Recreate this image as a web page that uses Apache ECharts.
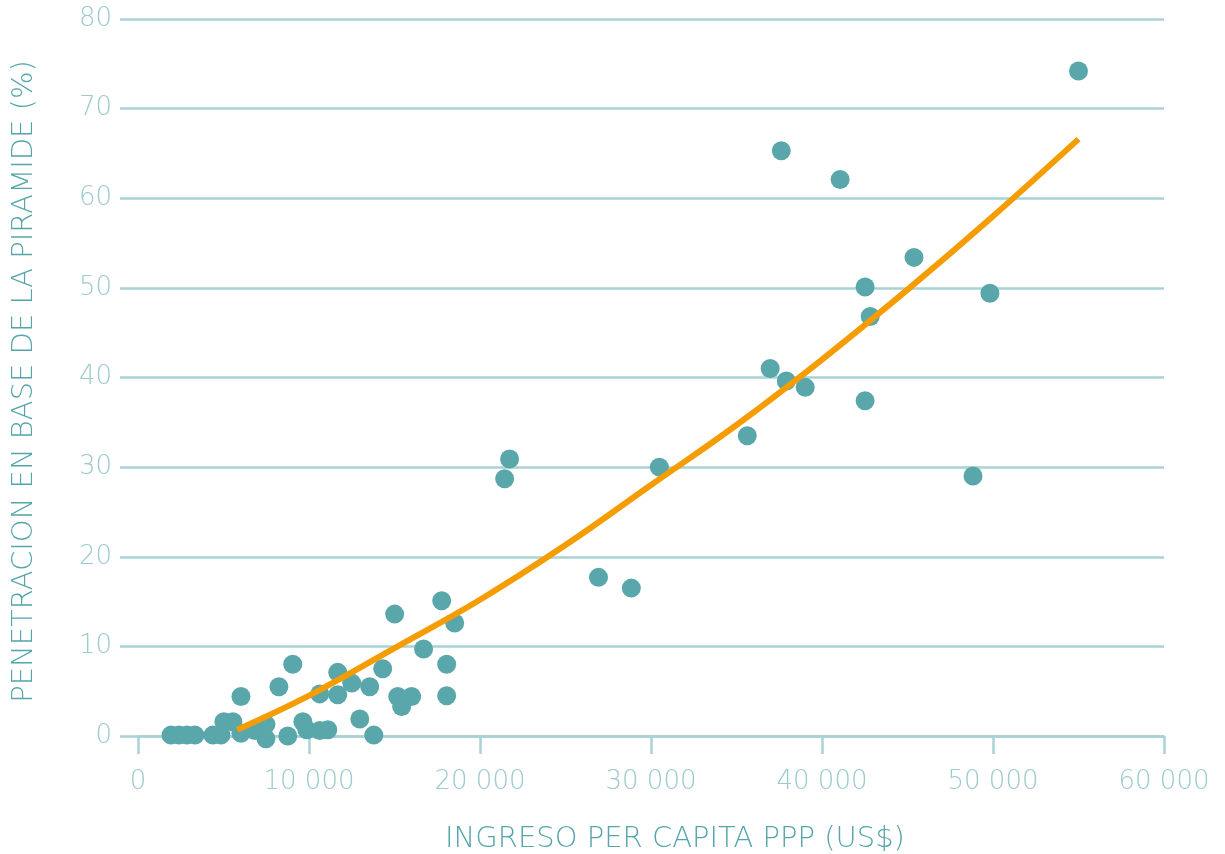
<!DOCTYPE html>
<html>
<head>
<meta charset="utf-8">
<script src="https://cdn.jsdelivr.net/npm/echarts@6/dist/echarts.min.js"></script>
<style>
html,body{margin:0;padding:0;background:#fff;overflow:hidden;}
#chart{width:1225px;height:854px;}
</style>
</head>
<body>
<div id="chart"></div>
<script>
// Income per capita PPP (US$) for each country point
const incomeValues = [
  1930, 2400, 2860, 3330, 4380, 4850, 5020, 5550, 6020, 6020,
  6830, 7480, 7480, 8240, 9050, 8760, 9640, 9870, 10630, 11100,
  10630, 11680, 11680, 12500, 13550, 12970, 13790, 14310, 15010, 15190,
  16000, 15420, 16700, 17760, 18050, 18050, 18520,
  55000, 37620, 41060, 45380, 42520, 49820, 42820, 36970, 37910, 39020,
  42520, 35630, 30490, 21730, 21440, 48830, 26930, 28850
];
// Penetration at base of the pyramid (%) for each country point
const penetrationValues = [
  0.1, 0.1, 0.1, 0.1, 0.1, 0.1, 1.6, 1.6, 4.4, 0.3,
  0.6, -0.3, 1.3, 5.5, 8.0, 0.0, 1.6, 0.7, 0.6, 0.7,
  4.7, 4.6, 7.1, 5.9, 5.5, 1.9, 0.1, 7.5, 13.6, 4.4,
  4.4, 3.3, 9.7, 15.1, 8.0, 4.5, 12.6,
  74.2, 65.3, 62.1, 53.4, 50.1, 49.4, 46.8, 41.0, 39.6, 38.9,
  37.4, 33.5, 30.0, 30.9, 28.7, 29.0, 17.7, 16.5
];
// Trend curve
const trendIncome = [5800, 10000, 15000, 20000, 25000, 30000, 35000, 40000, 45000, 50000, 55000];
const trendPenetration = [0.7, 4.5, 9.8, 15.2, 21.3, 28.0, 34.7, 42.0, 49.8, 58.0, 66.6];

const xTickLabels = ['0', '10 000', '20 000', '30 000', '40 000', '50 000', '60 000'];

const scatterData = incomeValues.map((x, i) => [x, penetrationValues[i]]);
const trendData = trendIncome.map((x, i) => [x, trendPenetration[i]]);

const lightTeal = '#a8d2d5';
const labelTeal = '#9ccbcf';
const nameTeal = '#55a5aa';
const fontFam = '"DejaVu Sans", sans-serif';

const chart = echarts.init(document.getElementById('chart'), null, {renderer: 'canvas'});
chart.setOption({
  animation: false,
  backgroundColor: '#ffffff',
  grid: {left: 138, right: 61, top: 19, bottom: 118, containLabel: false, outerBoundsMode: 'none'},
  xAxis: {
    type: 'value',
    min: 0, max: 60000, interval: 10000,
    name: 'INGRESO PER CAPITA PPP (US$)',
    nameLocation: 'middle',
    nameGap: 89,
    nameTextStyle: {color: nameTeal, fontSize: 29, fontFamily: fontFam, fontWeight: 200, padding: [0, 0, 0, 48]},
    axisLine: {show: true, lineStyle: {color: lightTeal, width: 2.5}},
    axisTick: {show: true, length: 18, lineStyle: {color: lightTeal, width: 2.5}},
    axisLabel: {
      color: labelTeal, fontSize: 26, fontFamily: fontFam, fontWeight: 200, margin: 33,
      formatter: v => xTickLabels[Math.round(v / 10000)]
    },
    splitLine: {show: false}
  },
  yAxis: {
    type: 'value',
    min: 0, max: 80, interval: 10,
    name: 'PENETRACION EN BASE DE LA PIRAMIDE (%)',
    nameLocation: 'middle',
    nameGap: 99,
    nameTextStyle: {color: nameTeal, fontSize: 29, fontFamily: fontFam, fontWeight: 200, padding: [0, 8, 0, 0]},
    axisLine: {show: false},
    axisTick: {show: true, length: 18, lineStyle: {color: lightTeal, width: 2.5}},
    axisLabel: {color: labelTeal, fontSize: 26, fontFamily: fontFam, fontWeight: 200, margin: 26},
    splitLine: {show: true, lineStyle: {color: lightTeal, width: 2.5}}
  },
  series: [
    {
      type: 'scatter',
      data: scatterData,
      symbolSize: 19,
      itemStyle: {color: '#5aa7ab', opacity: 1},
      clip: false,
      z: 2
    },
    {
      type: 'line',
      data: trendData,
      smooth: 0.4,
      showSymbol: false,
      lineStyle: {color: '#f59c00', width: 6, cap: 'butt'},
      z: 3
    }
  ]
});
</script>
</body>
</html>
